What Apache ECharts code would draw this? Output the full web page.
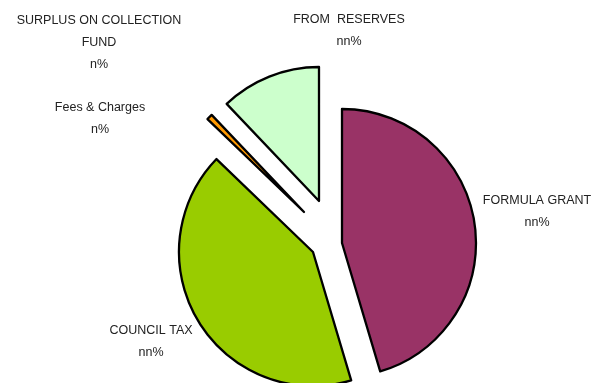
<!DOCTYPE html>
<html>
<head>
<meta charset="utf-8">
<script src="https://cdn.jsdelivr.net/npm/echarts@6/dist/echarts.min.js"></script>
<style>
html,body{margin:0;padding:0;background:#fff;}
#chart{width:602px;height:383px;}
</style>
</head>
<body>
<div id="chart"></div>
<script>
// Data
const categories = ['FORMULA GRANT', 'COUNCIL TAX', 'Fees & Charges', 'SURPLUS ON COLLECTION\nFUND', 'FROM  RESERVES'];
const values = [45.4, 41.8, 0.7, 0, 12.1];
const valueLabels = ['nn%', 'nn%', 'n%', 'n%', 'nn%'];

// Styling / layout
const colors = ['#993366', '#99CC00', '#FF9900', '#FFFFCC', '#CCFFCC'];
const centers = [[342, 243], [313, 252], [304, 212], [310, 225], [319, 201]];
const labelPos = [[537, 212], [151, 342], [100, 119], [99, 43], [349, 31]];

const chart = echarts.init(document.getElementById('chart'), null, {renderer: 'canvas'});

const series = categories.map((cat, i) => ({
  type: 'pie',
  center: centers[i],
  radius: 134,
  startAngle: 90,
  clockwise: true,
  silent: true,
  animation: false,
  avoidLabelOverlap: false,
  data: categories.map((n, j) => ({
    name: n,
    value: values[j],
    itemStyle: (j === i && values[j] > 0)
      ? {color: colors[j], borderColor: '#000', borderWidth: 2.3}
      : {color: 'rgba(0,0,0,0)', borderWidth: 0},
    label: {show: j === i}
  })),
  label: {
    position: 'outside',
    formatter: p => p.name + '\n' + valueLabels[p.dataIndex],
    fontFamily: 'Liberation Sans, Arial, sans-serif',
    fontSize: 12.5,
    lineHeight: 22,
    color: '#222',
    align: 'center'
  },
  labelLine: {show: false},
  labelLayout: p => (p.dataIndex === i ? {x: labelPos[i][0], y: labelPos[i][1], align: 'center', verticalAlign: 'middle'} : {}),
  emphasis: {disabled: true}
}));

chart.setOption({
  backgroundColor: '#fff',
  series: series
});
</script>
</body>
</html>
